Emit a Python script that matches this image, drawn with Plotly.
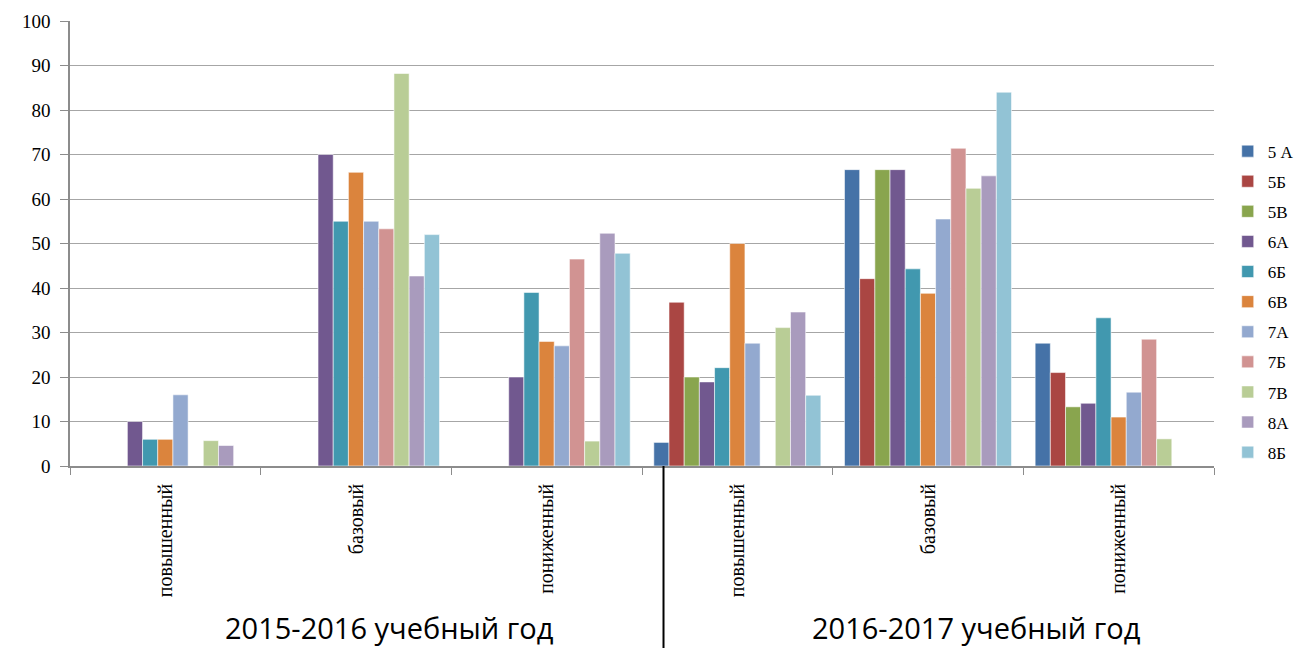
import plotly.graph_objects as go

levels = ["повышенный", "базовый", "пониженный"]
years = ["2015-2016 учебный год", "2016-2017 учебный год"]
categories = levels + levels  # six category slots, grouped by year

series_names = ["5 А", "5Б", "5В", "6А", "6Б", "6В", "7А", "7Б", "7В", "8А", "8Б"]
colors = ["#4572A7", "#AA4643", "#89A54E", "#71588F", "#4198AF", "#DB843D",
          "#93A9CF", "#D19392", "#B9CD96", "#A99BBD", "#92C3D5"]

# values per series over the 6 categories (None = no bar)
v_5A = [None, None, None, 5.3, 66.6, 27.6]
v_5B = [None, None, None, 36.8, 42.1, 21.0]
v_5V = [None, None, None, 20.0, 66.6, 13.3]
v_6A = [10.0, 70.0, 20.0, 18.9, 66.6, 14.1]
v_6B = [6.0, 55.0, 39.0, 22.1, 44.3, 33.3]
v_6V = [6.0, 66.0, 28.0, 50.0, 38.8, 11.0]
v_7A = [16.0, 55.0, 27.0, 27.6, 55.5, 16.6]
v_7B = [None, 53.3, 46.5, None, 71.4, 28.5]
v_7V = [5.7, 88.2, 5.6, 31.1, 62.4, 6.1]
v_8A = [4.6, 42.7, 52.3, 34.6, 65.2, None]
v_8B = [None, 52.0, 47.8, 15.9, 84.0, None]
series_values = [v_5A, v_5B, v_5V, v_6A, v_6B, v_6V, v_7A, v_7B, v_7V, v_8A, v_8B]

y_ticks = list(range(0, 101, 10))

x_pos = list(range(len(categories)))

fig = go.Figure()
for i, (name, vals) in enumerate(zip(series_names, series_values)):
    fig.add_trace(go.Bar(
        x=x_pos, y=vals, name=name, legendgroup=name,
        marker=dict(color=colors[i], line=dict(color="rgba(255,255,255,0.55)", width=1)),
    ))

serif = "'Liberation Serif', 'Times New Roman', 'DejaVu Serif', serif"
fig.update_layout(
    width=1294, height=640,
    margin=dict(l=62, r=88, t=13, b=182, autoexpand=False),
    paper_bgcolor="white", plot_bgcolor="white",
    barmode="group", bargap=0.124, bargroupgap=0,
    showlegend=True,
    legend=dict(x=1.012, y=0.747, xanchor="left", yanchor="top",
                font=dict(family=serif, size=17, color="black"),
                tracegroupgap=5, traceorder="grouped", itemwidth=30),
    xaxis=dict(
        range=[-0.5, len(categories) - 0.5], automargin=False,
        tickmode="array", tickvals=x_pos, ticktext=categories,
        tickangle=-90, ticks="", ticklabelstandoff=8,
        tickfont=dict(family=serif, size=20, color="black"),
        showline=True, linecolor="#8c8c8c", linewidth=1.5,
        showgrid=False, zeroline=False,
        minor=dict(tickvals=[p - 0.5 for p in x_pos] + [x_pos[-1] + 0.5],
                   ticks="outside", ticklen=7, tickcolor="#8c8c8c", tickwidth=1.2,
                   showgrid=False),
    ),
    yaxis=dict(
        range=[0, 100], tickmode="array", tickvals=y_ticks, automargin=False,
        ticks="outside", ticklen=8, tickcolor="#8c8c8c", tickwidth=1.2,
        ticklabelstandoff=6,
        tickfont=dict(family=serif, size=19, color="black"),
        showline=True, linecolor="#8c8c8c", linewidth=1.5,
        showgrid=True, gridcolor="#a6a6a6", gridwidth=1.2, zeroline=False,
    ),
)

# year labels under the category labels
year_x = [0.2797, 0.792]
for xp, label in zip(year_x, years):
    fig.add_annotation(x=xp, y=-0.364, xref="paper", yref="paper", text=label,
                       showarrow=False, xanchor="center", yanchor="middle",
                       font=dict(family="Open Sans", size=29, color="black"))

# divider between the two school years
fig.add_shape(type="line", xref="paper", yref="paper", x0=0.5188, x1=0.5188,
              y0=0, y1=-0.41, line=dict(color="black", width=2))

fig.write_html("out.html")
